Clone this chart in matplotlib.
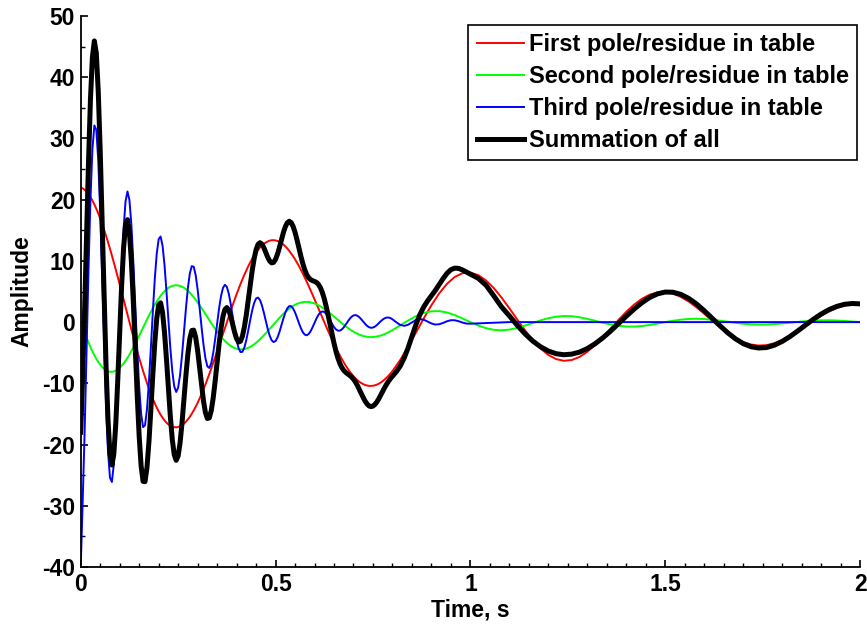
import numpy as np
import matplotlib
matplotlib.use("Agg")
import matplotlib.pyplot as plt
from matplotlib.ticker import MultipleLocator, FuncFormatter

plt.rcParams['font.family'] = ['Liberation Sans', 'DejaVu Sans']
plt.rcParams['axes.unicode_minus'] = False

# ---------------- data ----------------
# sample grids (s)
t_fine = np.round(np.arange(161) * 0.005, 3)          # 0.000 .. 0.800
t_coarse = np.round(0.82 + np.arange(60) * 0.02, 2)   # 0.82 .. 2.00
t_blue_tail = list(np.round(0.81 + np.arange(20) * 0.01, 2)) + [1.10, 2.00]
t_black_tail = list(np.round(0.81 + np.arange(20) * 0.01, 2)) + \
    list(np.round(1.02 + np.arange(50) * 0.02, 2))

series_labels = ["First pole/residue in table", "Second pole/residue in table",
                 "Third pole/residue in table", "Summation of all"]

red_fine = [
    22.00, 21.85, 21.61, 21.29, 20.89, 20.41, 19.85, 19.22, 18.52, 17.76,
    16.93, 16.04, 15.10, 14.11, 13.08, 12.00, 10.88, 9.74, 8.56, 7.37,
    6.15, 4.93, 3.69, 2.46, 1.23, 0.00, -1.21, -2.41, -3.58, -4.73,
    -5.85, -6.94, -7.98, -8.99, -9.95, -10.86, -11.71, -12.52, -13.26, -13.95,
    -14.57, -15.13, -15.62, -16.05, -16.42, -16.71, -16.93, -17.08, -17.16, -17.19,
    -17.13, -17.02, -16.83, -16.58, -16.27, -15.89, -15.46, -14.97, -14.42, -13.83,
    -13.19, -12.50, -11.77, -10.99, -10.19, -9.34, -8.48, -7.58, -6.67, -5.74,
    -4.79, -3.84, -2.88, -1.91, -0.95, 0.00, 0.94, 1.88, 2.79, 3.69,
    4.56, 5.40, 6.22, 7.00, 7.75, 8.45, 9.12, 9.75, 10.33, 10.86,
    11.35, 11.79, 12.17, 12.50, 12.78, 13.01, 13.18, 13.31, 13.37, 13.38,
    13.34, 13.25, 13.11, 12.92, 12.67, 12.38, 12.04, 11.66, 11.23, 10.77,
    10.27, 9.73, 9.16, 8.56, 7.93, 7.28, 6.60, 5.91, 5.19, 4.47,
    3.73, 2.99, 2.24, 1.49, 0.74, 0.00, -0.74, -1.46, -2.17, -2.87,
    -3.55, -4.21, -4.84, -5.45, -6.03, -6.58, -7.11, -7.59, -8.05, -8.46,
    -8.84, -9.18, -9.48, -9.74, -9.96, -10.13, -10.27, -10.36, -10.42, -10.42,
    -10.39, -10.32, -10.21, -10.06, -9.87, -9.64, -9.37, -9.08, -8.75, -8.38,
    -8.00]
red_coarse = [
    -6.18, -4.04, -1.74, 0.57, 2.76, 4.70, 6.26, 7.38, 8.00, 8.09,
    7.68, 6.81, 5.56, 4.00, 2.26, 0.45, -1.32, -2.94, -4.31, -5.36,
    -6.04, -6.32, -6.19, -5.69, -4.85, -3.75, -2.45, -1.06, 0.35, 1.68,
    2.85, 3.80, 4.48, 4.85, 4.91, 4.66, 4.13, 3.37, 2.43, 1.37,
    0.27, -0.80, -1.78, -2.61, -3.25, -3.66, -3.83, -3.76, -3.45, -2.94,
    -2.27, -1.49, -0.64, 0.21, 1.02, 1.73, 2.30, 2.72, 2.94, 2.98]

green_fine = [
    0.00, -0.88, -1.73, -2.55, -3.34, -4.08, -4.77, -5.41, -5.99, -6.50,
    -6.95, -7.33, -7.64, -7.87, -8.03, -8.11, -8.12, -8.06, -7.93, -7.73,
    -7.47, -7.14, -6.76, -6.32, -5.84, -5.31, -4.74, -4.14, -3.52, -2.88,
    -2.22, -1.55, -0.88, -0.22, 0.43, 1.07, 1.69, 2.28, 2.84, 3.37,
    3.85, 4.30, 4.70, 5.04, 5.34, 5.59, 5.78, 5.91, 5.99, 6.02,
    5.99, 5.91, 5.78, 5.60, 5.38, 5.11, 4.80, 4.45, 4.07, 3.66,
    3.22, 2.76, 2.29, 1.81, 1.31, 0.82, 0.33, -0.16, -0.64, -1.10,
    -1.55, -1.97, -2.37, -2.74, -3.08, -3.38, -3.65, -3.89, -4.08, -4.24,
    -4.35, -4.42, -4.46, -4.45, -4.41, -4.32, -4.20, -4.04, -3.85, -3.63,
    -3.38, -3.11, -2.81, -2.50, -2.16, -1.82, -1.46, -1.10, -0.73, -0.36,
    0.00, 0.36, 0.70, 1.04, 1.36, 1.66, 1.94, 2.20, 2.43, 2.64,
    2.83, 2.98, 3.10, 3.20, 3.26, 3.30, 3.30, 3.28, 3.23, 3.14,
    3.04, 2.90, 2.75, 2.57, 2.37, 2.16, 1.93, 1.68, 1.43, 1.17,
    0.90, 0.63, 0.36, 0.09, -0.18, -0.44, -0.69, -0.93, -1.16, -1.37,
    -1.57, -1.75, -1.91, -2.05, -2.17, -2.27, -2.35, -2.40, -2.44, -2.45,
    -2.44, -2.40, -2.35, -2.28, -2.19, -2.08, -1.95, -1.81, -1.65, -1.49,
    -1.31]
green_coarse = [
    -0.53, 0.26, 0.96, 1.49, 1.77, 1.79, 1.57, 1.14, 0.59, 0.00,
    -0.55, -0.99, -1.26, -1.34, -1.23, -0.96, -0.58, -0.15, 0.28, 0.64,
    0.88, 0.99, 0.96, 0.79, 0.53, 0.22, -0.11, -0.39, -0.60, -0.72,
    -0.73, -0.64, -0.46, -0.24, 0.00, 0.22, 0.40, 0.51, 0.55, 0.50,
    0.39, 0.24, 0.06, -0.11, -0.26, -0.36, -0.40, -0.39, -0.32, -0.22,
    -0.09, 0.04, 0.16, 0.25, 0.29, 0.30, 0.26, 0.19, 0.10, 0.00]

blue_fine = [
    -40.00, -29.39, -18.01, -4.70, 8.60, 20.08, 28.23, 32.12, 31.41, 26.42,
    18.05, 7.61, -3.36, -13.34, -21.00, -25.40, -26.11, -23.19, -17.24, -9.21,
    -0.31, 8.20, 15.17, 19.72, 21.34, 19.95, 15.89, 9.85, 2.75, -4.38,
    -10.56, -14.99, -17.15, -16.85, -14.25, -9.81, -4.26, 1.61, 6.98, 11.12,
    13.54, 13.98, 12.49, 9.35, 5.07, 0.32, -4.25, -8.01, -10.50, -11.41,
    -10.71, -8.59, -5.39, -1.60, 2.22, 5.55, 7.96, 9.15, 9.04, 7.68,
    5.34, 2.38, -0.76, -3.65, -5.89, -7.22, -7.49, -6.72, -5.06, -2.79,
    -0.25, 2.20, 4.23, 5.58, 6.10, 5.76, 4.64, 2.94, 0.92, -1.13,
    -2.92, -4.23, -4.89, -4.85, -4.14, -2.91, -1.33, 0.35, 1.91, 3.12,
    3.85, 4.01, 3.61, 2.74, 1.54, 0.18, -1.14, -2.23, -2.97, -3.26,
    -3.09, -2.51, -1.61, -0.53, 0.57, 1.53, 2.24, 2.61, 2.60, 2.23,
    1.58, 0.74, -0.16, -0.99, -1.65, -2.05, -2.15, -1.94, -1.48, -0.84,
    -0.12, 0.59, 1.18, 1.58, 1.74, 1.66, 1.35, 0.88, 0.30, -0.29,
    -0.81, -1.19, -1.39, -1.39, -1.20, -0.86, -0.41, 0.07, 0.52, 0.87,
    1.09, 1.15, 1.04, 0.80, 0.46, 0.08, -0.30, -0.62, -0.84, -0.93,
    -0.89, -0.73, -0.48, -0.17, 0.14, 0.42, 0.63, 0.74, 0.75, 0.65,
    0.46]
blue_tail = [
    -0.03, -0.46, -0.61, -0.44, -0.05, 0.33, 0.50, 0.39, 0.10, -0.22,
    -0.40, -0.35, -0.13, 0.14, 0.31, 0.30, 0.14, -0.08, -0.24, -0.26,
    0.00, 0.00]

black_fine = [
    -18.00, -8.42, 1.87, 14.04, 26.15, 36.41, 43.31, 45.93, 43.94, 37.68,
    28.03, 16.32, 4.10, -7.10, -15.95, -21.51, -23.35, -21.51, -16.61, -9.57,
    -1.63, 5.99, 12.10, 15.86, 16.73, 14.64, 9.94, 3.30, -4.35, -11.99,
    -18.63, -23.48, -26.01, -26.06, -23.77, -19.60, -14.28, -8.63, -3.44, 0.54,
    2.82, 3.15, 1.57, -1.66, -6.01, -10.80, -15.40, -19.18, -21.67, -22.58,
    -21.85, -19.70, -16.44, -12.58, -8.67, -5.23, -2.70, -1.37, -1.31, -2.49,
    -4.63, -7.36, -10.24, -12.83, -14.77, -15.74, -15.64, -14.46, -12.37, -9.63,
    -6.59, -3.61, -1.02, 0.93, 2.07, 2.38, 1.93, 0.93, -0.37, -1.68,
    -2.71, -3.25, -3.13, -2.30, -0.80, 1.22, 3.59, 6.06, 8.39, 10.35,
    11.82, 12.69, 12.97, 12.74, 12.16, 11.37, 10.58, 9.98, 9.67, 9.76,
    10.25, 11.10, 12.20, 13.43, 14.60, 15.57, 16.22, 16.47, 16.26, 15.64,
    14.68, 13.45, 12.10, 10.77, 9.54, 8.53, 7.75, 7.25, 6.94, 6.77,
    6.65, 6.48, 6.17, 5.64, 4.85, 3.82, 2.54, 1.10, -0.44, -1.99,
    -3.46, -4.77, -5.87, -6.75, -7.41, -7.88, -8.21, -8.45, -8.69, -8.96,
    -9.32, -9.78, -10.35, -10.99, -11.67, -12.32, -12.92, -13.38, -13.70, -13.80,
    -13.72, -13.45, -13.04, -12.51, -11.92, -11.30, -10.69, -10.15, -9.65, -9.22,
    -8.85]
black_tail = [
    -8.09, -7.17, -5.88, -4.22, -2.33, -0.45, 1.17, 2.45, 3.45, 4.31,
    5.18, 6.14, 7.11, 7.97, 8.57, 8.82, 8.77, 8.51, 8.17, 7.83,
    7.16, 6.04, 4.30, 2.48, 1.03, -0.51, -1.90, -3.09, -4.03, -4.72,
    -5.16, -5.33, -5.23, -4.90, -4.32, -3.53, -2.56, -1.45, -0.25, 0.96,
    2.12, 3.16, 4.02, 4.61, 4.91, 4.88, 4.53, 3.88, 2.98, 1.87,
    0.66, -0.56, -1.72, -2.72, -3.51, -4.02, -4.23, -4.15, -3.77, -3.16,
    -2.36, -1.45, -0.48, 0.46, 1.31, 2.03, 2.56, 2.91, 3.04, 2.98]

x_ticks = [0, 0.5, 1, 1.5, 2]
y_ticks = [-40, -30, -20, -10, 0, 10, 20, 30, 40, 50]

# ---------------- figure ----------------
FS = 16.5
fig = plt.figure(figsize=(8.67, 6.25), dpi=100)
ax = fig.add_axes([0.0931, 0.0928, 0.8989, 0.8816])

ax.plot(np.concatenate([t_fine, t_coarse]), red_fine + red_coarse,
        color='#ff0000', lw=1.4, label=series_labels[0])
ax.plot(np.concatenate([t_fine, t_coarse]), green_fine + green_coarse,
        color='#00ff00', lw=1.4, label=series_labels[1])
ax.plot(np.concatenate([t_fine, t_blue_tail]), blue_fine + blue_tail,
        color='#0000ff', lw=1.4, label=series_labels[2])
ax.plot(np.concatenate([t_fine, t_black_tail]), black_fine + black_tail,
        color='black', lw=3.6, label=series_labels[3])

ax.set_xlim(0, 2)
ax.set_ylim(-40, 50)
ax.set_xticks(x_ticks)
ax.set_yticks(y_ticks)
ax.xaxis.set_minor_locator(MultipleLocator(0.05))
ax.yaxis.set_minor_locator(MultipleLocator(5))
fmt = FuncFormatter(lambda v, p: '%g' % v)
ax.xaxis.set_major_formatter(fmt)
ax.yaxis.set_major_formatter(fmt)

for s in ['top', 'right']:
    ax.spines[s].set_visible(False)
for s in ['left', 'bottom']:
    ax.spines[s].set_linewidth(1.3)

ax.tick_params(which='major', direction='in', length=5, width=1.2,
               labelsize=FS, pad=4)
ax.tick_params(which='minor', direction='in', length=3, width=1.0)
for lab in ax.get_xticklabels() + ax.get_yticklabels():
    lab.set_fontweight('bold')

ax.set_xlabel('Time, s', fontsize=FS, fontweight='bold', labelpad=2)
ax.set_ylabel('Amplitude', fontsize=FS, fontweight='bold', labelpad=6)

leg = ax.legend(loc='upper right', bbox_to_anchor=(0.996, 0.984),
                borderaxespad=0, fancybox=False, framealpha=1,
                edgecolor='black', handlelength=2.0, handletextpad=0.2,
                labelspacing=0.38, borderpad=0.35,
                prop={'size': 17, 'weight': 'bold'})
leg.get_frame().set_linewidth(1.2)

fig.savefig('out.png', dpi=100, facecolor='white')
